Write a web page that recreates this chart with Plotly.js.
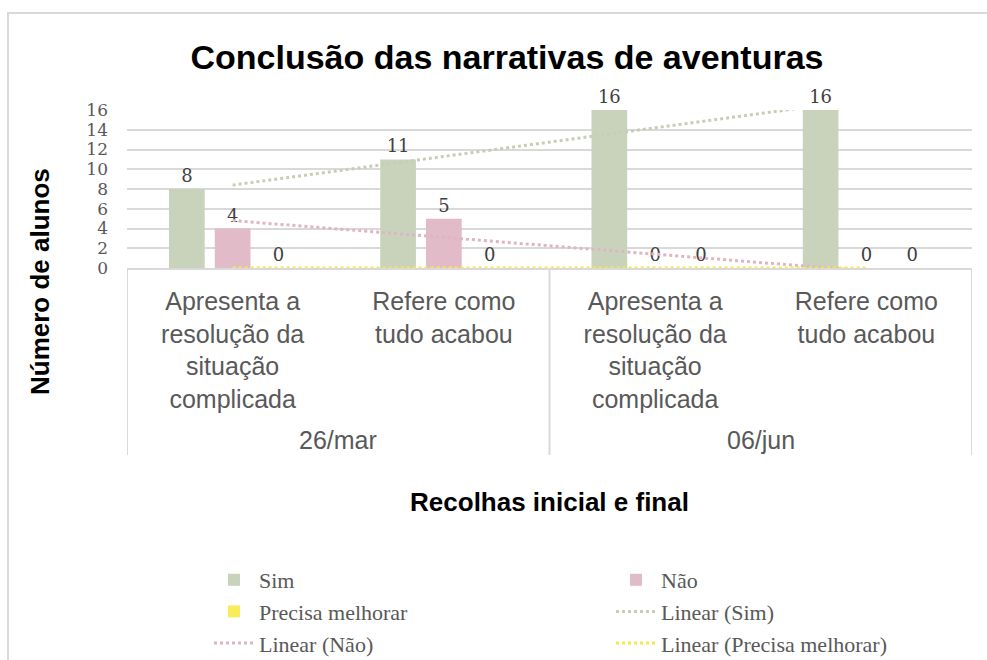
<!DOCTYPE html>
<html>
<head>
<meta charset="utf-8">
<script src="https://cdn.plot.ly/plotly-3.0.1.min.js"></script>
<style>
html,body{margin:0;padding:0;background:#fff;}
#chart{width:987px;height:660px;}
</style>
</head>
<body>
<div id="chart"></div>
<script>
// ---- data ----
const groups = ['26/mar', '26/mar', '06/jun', '06/jun'];
const subcategories = [
  'Apresenta a<br>resolução da<br>situação<br>complicada',
  'Refere como<br>tudo acabou',
  'Apresenta a<br>resolução da<br>situação<br>complicada',
  'Refere como<br>tudo acabou'
];
const sim = [8, 11, 16, 16];
const nao = [4, 5, 0, 0];
const precisaMelhorar = [0, 0, 0, 0];
const seriesNames = ['Sim', 'Não', 'Precisa melhorar'];
const trendNames = ['Linear (Sim)', 'Linear (Não)', 'Linear (Precisa melhorar)'];
const chartTitle = 'Conclusão das narrativas de aventuras';
const yTitle = 'Número de alunos';
const xTitle = 'Recolhas inicial e final';

// ---- styling ----
const barColors = ['#c9d3bc', '#e2bbc8', '#f8ec5a'];
const trendColors = ['#c5cfb6', '#e0b4c3', '#f5e94a'];

// least-squares linear trend evaluated at the category positions
function linearTrend(vals) {
  const n = vals.length;
  const xs = vals.map((_, i) => i + 1);
  const mx = xs.reduce((a, b) => a + b, 0) / n;
  const my = vals.reduce((a, b) => a + b, 0) / n;
  let sxy = 0, sxx = 0;
  for (let i = 0; i < n; i++) { sxy += (xs[i] - mx) * (vals[i] - my); sxx += (xs[i] - mx) ** 2; }
  const slope = sxy / sxx;
  return xs.map(x => my + slope * (x - mx));
}

const xPos = subcategories.map((_, i) => i + 1);
const serif = 'DejaVu Serif, serif';
const sans = 'Liberation Sans, Arial, sans-serif';

const allSeries = [sim, nao, precisaMelhorar];
const traces = [];
allSeries.forEach((vals, i) => {
  traces.push({
    type: 'bar',
    name: seriesNames[i],
    x: xPos,
    y: vals,
    marker: {color: barColors[i]},
    text: vals.map(String),
    textposition: 'outside',
    cliponaxis: false,
    constraintext: 'none',
    textfont: {family: serif, size: 18, color: '#404040'},
    hoverinfo: 'skip'
  });
});
allSeries.forEach((vals, i) => {
  traces.push({
    type: 'scatter',
    mode: 'lines',
    name: trendNames[i],
    x: xPos,
    y: linearTrend(vals),
    line: {color: trendColors[i], width: 3, dash: 'dot'},
    hoverinfo: 'skip'
  });
});

// plot area in pixels
const W = 987, H = 660;
const L = 127, R = 972, T = 110, B = 268;
const px2x = p => (p - L) / (R - L);
const px2y = p => (B - p) / (B - T);

// group spans (from the groups array)
const groupSpans = [];
groups.forEach((g, i) => {
  const last = groupSpans[groupSpans.length - 1];
  if (last && last.name === g) last.end = i + 1;
  else groupSpans.push({name: g, start: i + 1, end: i + 1});
});
const dividerXs = [0.5].concat(groupSpans.map(s => s.end + 0.5));

const groupAnnotations = groupSpans.map(s => ({
  text: s.name,
  xref: 'x', yref: 'paper',
  x: (s.start + s.end) / 2, y: px2y(440),
  xanchor: 'center', yanchor: 'middle',
  showarrow: false,
  font: {family: sans, size: 25, color: '#595959'}
}));

const dividerShapes = dividerXs.map(x => ({
  type: 'line', xref: 'x', yref: 'paper',
  x0: x, x1: x, y0: 0, y1: px2y(455),
  line: {color: '#d9d9d9', width: 2}
}));

const layout = {
  width: W,
  height: H,
  margin: {l: L, r: W - R, t: T, b: H - B, pad: 0},
  paper_bgcolor: '#ffffff',
  plot_bgcolor: '#ffffff',
  showlegend: true,
  barmode: 'group',
  bargap: 0.35,
  bargroupgap: 0.22,
  title: {
    text: chartTitle,
    font: {family: sans, size: 34, color: '#000000', weight: 'bold'},
    x: 507 / W, xanchor: 'center', xref: 'container',
    y: 1 - 57 / H, yanchor: 'middle', yref: 'container'
  },
  xaxis: {
    range: [0.5, subcategories.length + 0.5],
    tickvals: xPos,
    ticktext: subcategories,
    showline: true,
    linecolor: '#d9d9d9',
    linewidth: 2,
    showgrid: false,
    zeroline: false,
    ticks: '',
    ticklabelstandoff: 10,
    tickfont: {family: sans, size: 25, color: '#595959'},
    title: {text: xTitle, font: {family: sans, size: 26, color: '#000000', weight: 'bold'}, standoff: 81},
    automargin: true
  },
  yaxis: {
    range: [0, 16],
    dtick: 2,
    showline: false,
    showgrid: true,
    gridcolor: '#d9d9d9',
    gridwidth: 2,
    zeroline: false,
    ticks: '',
    ticklabelstandoff: 18,
    tickfont: {family: serif, size: 17, color: '#595959'},
    automargin: false
  },
  legend: {
    orientation: 'h',
    xref: 'container', yref: 'container',
    x: 209 / W, xanchor: 'left',
    y: 1 - 559 / H, yanchor: 'top',
    entrywidth: 347, entrywidthmode: 'pixels',
    font: {family: 'Liberation Serif, serif', size: 22, color: '#595959'},
    itemwidth: 40,
    traceorder: 'normal',
    tracegroupgap: 0,
    bgcolor: 'rgba(0,0,0,0)'
  },
  annotations: [{
    text: yTitle,
    xref: 'paper', yref: 'paper',
    x: px2x(40), y: px2y(282),
    xanchor: 'center', yanchor: 'middle',
    textangle: -90,
    showarrow: false,
    font: {family: sans, size: 26, color: '#000000', weight: 'bold'}
  }].concat(groupAnnotations),
  shapes: [{
    type: 'rect', xref: 'paper', yref: 'paper',
    x0: px2x(8), x1: px2x(992), y0: px2y(670), y1: px2y(13),
    line: {color: '#d9d9d9', width: 2}, fillcolor: 'rgba(0,0,0,0)', layer: 'below'
  }].concat(dividerShapes)
};

Plotly.newPlot('chart', traces, layout, {displayModeBar: false, staticPlot: true});
</script>
</body>
</html>
